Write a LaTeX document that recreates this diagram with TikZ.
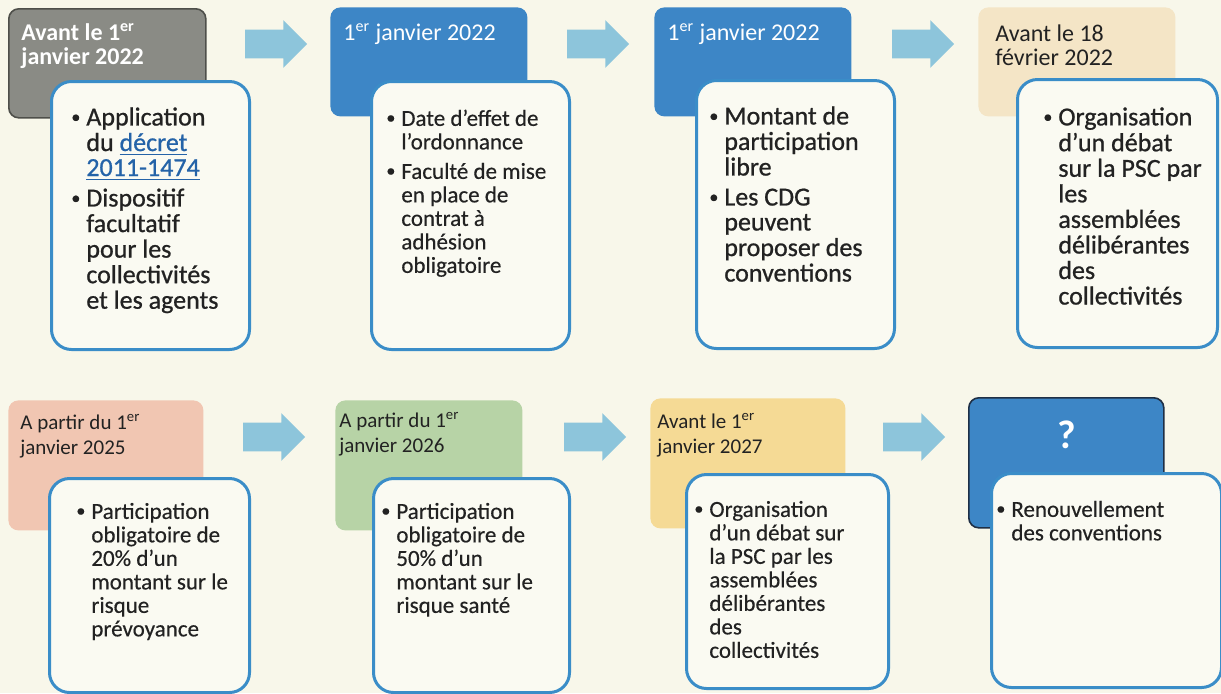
\documentclass[tikz,border=0pt]{standalone}
\usepackage{fontspec}
\setmainfont{Carlito}
\newfontfamily\semibold[FakeBold=0.8]{Carlito}
\newfontfamily\medium[FakeBold=0.4]{Carlito}
\usetikzlibrary{shapes.arrows}

\definecolor{bgcream}{HTML}{F8F7EA}
\definecolor{hgrey}{HTML}{8A8B85}
\definecolor{hgreyline}{HTML}{4E4F4A}
\definecolor{hblue}{HTML}{3D86C6}
\definecolor{hdarkline}{HTML}{1F2F45}
\definecolor{hbeige}{HTML}{F4E5C6}
\definecolor{hpink}{HTML}{F1C6B2}
\definecolor{hgreen}{HTML}{B7D3A6}
\definecolor{hyellow}{HTML}{F5DA95}
\definecolor{cardline}{HTML}{3A8DC8}
\definecolor{cardfill}{HTML}{FAFAF2}
\definecolor{arrowblue}{HTML}{8DC5DB}
\definecolor{txt}{HTML}{222222}
\definecolor{linkblue}{HTML}{2463A8}

\newcommand{\lnk}[1]{\textcolor{linkblue}{\underline{#1}}}
\newcommand{\bul}{\raisebox{0.1em}{\fontsize{9}{9}\selectfont\textbullet}}

\tikzset{
  head/.style={rounded corners=5pt, anchor=north west, inner sep=0pt,
    minimum width=98.5pt, minimum height=54.5pt},
  headlow/.style={head, minimum width=97.5pt, minimum height=65pt},
  card/.style={draw=cardline, line width=1.5pt, fill=cardfill, rounded corners=10pt,
    anchor=north west, inner sep=0pt, minimum width=99pt, minimum height=134pt},
  cardlow/.style={card, minimum width=100pt, minimum height=107pt},
  htext/.style={anchor=north west, inner sep=0pt, font=\fontsize{12}{12}\selectfont},
  hlowtext/.style={anchor=north west, inner sep=0pt, text=txt, font=\fontsize{10.5}{12.5}\selectfont},
  btext/.style={anchor=north west, inner sep=0pt, text=txt, font=\semibold\fontsize{13}{12.5}\selectfont},
  ltext/.style={anchor=north west, inner sep=0pt, text=txt, font=\medium\fontsize{11.5}{11.75}\selectfont},
  steparrow/.style={single arrow, single arrow head extend=4.75pt, fill=arrowblue,
    inner xsep=0pt, inner ysep=7pt, minimum height=31pt, minimum width=23.5pt},
}

\begin{document}
\begin{tikzpicture}[x=0.5pt,y=-0.5pt]
		% Page and background
		\useasboundingbox (0,0) rectangle (1221,693);
		\fill[bgcream] (0,0) rectangle (1221,693);
		
		% Top row: date headers
		\node[head, fill=hgrey, draw=hgreyline, line width=0.8pt] (h1) at (8,8) {};
		\node[head, fill=hblue] (h2) at (330,7) {};
		\node[head, fill=hblue] (h3) at (654,7) {};
		\node[head, fill=hbeige] (h4) at (978,7) {};
		\node[htext, text=white, font=\fontsize{12}{12}\selectfont\bfseries] (h1t) at ([shift={(13,15)}]h1.north west)
			{\begin{tabular}{@{}l@{}}Avant le 1\textsuperscript{er}\\ janvier 2022\end{tabular}};
		\node[htext, text=white] (h2t) at ([shift={(13,16)}]h2.north west)
			{\begin{tabular}{@{}l@{}}1\textsuperscript{er} janvier 2022\end{tabular}};
		\node[htext, text=white] (h3t) at ([shift={(13,16)}]h3.north west)
			{\begin{tabular}{@{}l@{}}1\textsuperscript{er} janvier 2022\end{tabular}};
		\node[htext, text=txt] (h4t) at ([shift={(17,17)}]h4.north west)
			{\begin{tabular}{@{}l@{}}Avant le 18\\ février 2022\end{tabular}};
		
		% Top row: arrows
		\node[steparrow] (a1) at (269,44) {};
		\node[steparrow] (a2) at (591,44) {};
		\node[steparrow] (a3) at (916,44) {};
		
		% Top row: content cards
		\node[card] (c1) at (50,80) {};
		\node[card] (c2) at (370,80) {};
		\node[card] (c3) at (695,79) {};
		\node[card, minimum width=100pt] (c4) at (1016,78) {};
		\node[btext] (c1t) at ([shift={(21,27)}]c1.north west)
			{\begin{tabular}{@{}l@{\hspace{3pt}}l@{}}
			\bul & Application\\ & du \lnk{décret}\\ & \lnk{2011-1474}\\[2.5pt]
			\bul & Dispositif\\ & facultatif\\ & pour les\\ & collectivités\\ & et les agents
			\end{tabular}};
		\node[ltext] (c2t) at ([shift={(16,29)}]c2.north west)
			{\begin{tabular}{@{}l@{\hspace{3pt}}l@{}}
			\bul & Date d’effet de\\ & l’ordonnance\\[3pt]
			\bul & Faculté de mise\\ & en place de\\ & contrat à\\ & adhésion\\ & obligatoire
			\end{tabular}};
		\node[btext] (c3t) at ([shift={(14,27)}]c3.north west)
			{\begin{tabular}{@{}l@{\hspace{3pt}}l@{}}
			\bul & Montant de\\ & participation\\ & libre\\[2.5pt]
			\bul & Les CDG\\ & peuvent\\ & proposer des\\ & conventions
			\end{tabular}};
		\node[btext] (c4t) at ([shift={(27,29)}]c4.north west)
			{\begin{tabular}{@{}l@{\hspace{3pt}}l@{}}
			\bul & Organisation\\ & d’un débat\\ & sur la PSC par\\ & les\\ & assemblées\\
			& délibérantes\\ & des\\ & collectivités
			\end{tabular}};
		
		% Bottom row: date headers
		\node[headlow, fill=hpink] (h5) at (8,400) {};
		\node[headlow, fill=hgreen, minimum width=93.5pt] (h6) at (335,400) {};
		\node[headlow, fill=hyellow] (h7) at (650,398) {};
		\node[headlow, fill=hblue, draw=hdarkline, line width=0.8pt] (h8) at (968,397) {};
		\node[hlowtext] (h5t) at ([shift={(12,12)}]h5.north west)
			{\begin{tabular}{@{}l@{}}A partir du 1\textsuperscript{er}\\ janvier 2025\end{tabular}};
		\node[hlowtext] (h6t) at ([shift={(4,10)}]h6.north west)
			{\begin{tabular}{@{}l@{}}A partir du 1\textsuperscript{er}\\ janvier 2026\end{tabular}};
		\node[hlowtext] (h7t) at ([shift={(7,13)}]h7.north west)
			{\begin{tabular}{@{}l@{}}Avant le 1\textsuperscript{er}\\ janvier 2027\end{tabular}};
		\node[text=white, inner sep=0pt, font=\fontsize{20}{20}\selectfont\bfseries] (h8t)
			at ([shift={(0,38)}]h8.north) {?};
		
		% Bottom row: arrows
		\node[steparrow] (a5) at (267,437) {};
		\node[steparrow] (a6) at (588,437) {};
		\node[steparrow] (a7) at (907,437) {};
		
		% Bottom row: content cards
		\node[cardlow] (c5) at (48,477) {};
		\node[cardlow, minimum width=98pt] (c6) at (372,477) {};
		\node[cardlow, minimum width=101pt] (c7) at (685,473) {};
		\node[cardlow, minimum width=115pt] (c8) at (990,472) {};
		\node[ltext] (c5t) at ([shift={(28,25)}]c5.north west)
			{\begin{tabular}{@{}l@{\hspace{3pt}}l@{}}
			\bul & Participation\\ & obligatoire de\\ & 20\% d’un\\ & montant sur le\\ & risque\\ & prévoyance
			\end{tabular}};
		\node[ltext] (c6t) at ([shift={(9,25)}]c6.north west)
			{\begin{tabular}{@{}l@{\hspace{3pt}}l@{}}
			\bul & Participation\\ & obligatoire de\\ & 50\% d’un\\ & montant sur le\\ & risque santé
			\end{tabular}};
		\node[ltext] (c7t) at ([shift={(9,27)}]c7.north west)
			{\begin{tabular}{@{}l@{\hspace{3pt}}l@{}}
			\bul & Organisation\\ & d’un débat sur\\ & la PSC par les\\ & assemblées\\ & délibérantes\\
			& des\\ & collectivités
			\end{tabular}};
		\node[ltext] (c8t) at ([shift={(6,28)}]c8.north west)
			{\begin{tabular}{@{}l@{\hspace{3pt}}l@{}}
			\bul & Renouvellement\\ & des conventions
			\end{tabular}};
		
\end{tikzpicture}
\end{document}
